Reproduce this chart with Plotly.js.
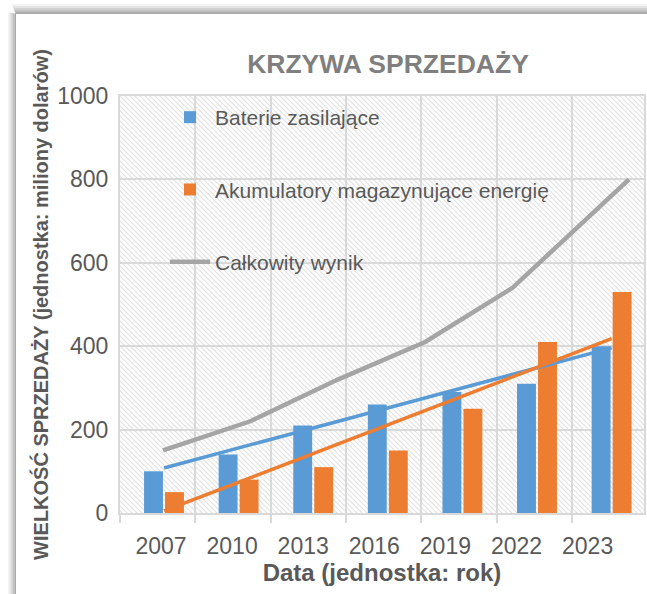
<!DOCTYPE html>
<html>
<head>
<meta charset="utf-8">
<script src="https://cdn.plot.ly/plotly-3.0.1.min.js"></script>
<style>html,body{margin:0;padding:0;background:#fff;}#chart{width:647px;height:594px;}</style>
</head>
<body>
<div id="chart"></div>
<script>
// ---- data ----
const categories = ['2007', '2010', '2013', '2016', '2019', '2022', '2023'];
const years = [2007, 2010, 2013, 2016, 2019, 2022, 2023];
const baterie = [100, 140, 210, 260, 290, 310, 400];
const akumulatory = [50, 80, 110, 150, 250, 410, 530];
const calkowity = [150, 220, 320, 410, 540, 735, 800];
const trendX = [categories[0], categories[categories.length - 1]];
const trendBaterie = [108, 396];
const trendAkumulatory = [5, 418];
const seriesNames = ['Baterie zasilające', 'Akumulatory magazynujące energię', 'Całkowity wynik'];

// ---- styling ----
const FONT = 'Liberation Sans, Arial, sans-serif';
const TXT = '#595959';
const GRID = '#d9d9d9';
const W = 647, H = 594;
const M = {l: 120, r: 3, t: 96, b: 81};
const PW = W - M.l - M.r, PH = H - M.t - M.b;
const px = x => (x - M.l) / PW;
const py = y => (H - M.b - y) / PH;

// pixel geometry of the reference
const CAT0 = 164, CATSTEP = 74.6;      // bar group centres
const LAB0 = 161, LABSTEP = 71.1;      // tick label centres
const YR0 = 163, YRSTEP = 29.125;      // pixels per year for the total line
const GRIDSTEP = 75.3;                 // vertical gridline spacing

const labelPos = categories.map((c, i) => (LAB0 + LABSTEP * i - CAT0) / CATSTEP);

const hatch = '<svg xmlns="http://www.w3.org/2000/svg" width="' + PW + '" height="' + PH + '">' +
  '<defs><pattern id="p" width="5" height="5" patternUnits="userSpaceOnUse">' +
  '<path d="M-1,-1L6,6M-1,4L1,6M4,-1L6,1" stroke="#e2e2e2" stroke-width="1.2"/></pattern></defs>' +
  '<rect width="100%" height="100%" fill="#ffffff"/><rect width="100%" height="100%" fill="url(#p)"/></svg>';

const shadowCols = ['#f3f3f3', '#e4e4e4', '#d2d2d2', '#bfbfbf', '#aaaaaa'];
const shapes = [];
shadowCols.forEach((c, i) => {
  shapes.push({type: 'rect', xref: 'paper', yref: 'paper', layer: 'below',
    x0: px(12 + i * 0.8), x1: px(W + 5), y0: py(4 + i * 2), y1: py(6 + i * 2),
    fillcolor: c, line: {width: 0}});
  shapes.push({type: 'rect', xref: 'paper', yref: 'paper', layer: 'below',
    x0: px(8 + i * 1.6), x1: px(9.6 + i * 1.6), y0: py(12 + i * 0.4), y1: py(H + 5),
    fillcolor: c, line: {width: 0}});
});

const traces = [
  {type: 'bar', name: seriesNames[0], x: categories, y: baterie, xaxis: 'x', yaxis: 'y',
   legendgroup: 'a', marker: {color: '#5b9bd5'}, hoverinfo: 'skip'},
  {type: 'bar', name: seriesNames[1], x: categories, y: akumulatory, xaxis: 'x', yaxis: 'y',
   legendgroup: 'b', marker: {color: '#ed7d31'}, hoverinfo: 'skip'},
  {type: 'scatter', mode: 'lines', x: trendX, y: trendBaterie, xaxis: 'x', yaxis: 'y',
   showlegend: false, line: {color: '#5b9bd5', width: 3.5}, hoverinfo: 'skip'},
  {type: 'scatter', mode: 'lines', x: trendX, y: trendAkumulatory, xaxis: 'x', yaxis: 'y',
   showlegend: false, line: {color: '#ed7d31', width: 3.5}, hoverinfo: 'skip'},
  {type: 'scatter', mode: 'lines', name: seriesNames[2], x: years, y: calkowity, xaxis: 'x2', yaxis: 'y',
   legendgroup: 'c', line: {color: '#a5a5a5', width: 4.5}, hoverinfo: 'skip'}
];

const layout = {
  width: W, height: H,
  margin: M,
  paper_bgcolor: '#ffffff',
  plot_bgcolor: 'rgba(0,0,0,0)',
  font: {family: FONT, color: TXT},
  showlegend: true,
  barmode: 'group',
  bargap: 0.437,
  bargroupgap: 0.1,
  title: {
    text: 'KRZYWA SPRZEDAŻY',
    font: {family: FONT, size: 26.5, color: '#7f7f7f', weight: 'bold'},
    xref: 'container', yref: 'container', x: 388 / W, y: 1 - 64 / H,
    xanchor: 'center', yanchor: 'middle'
  },
  xaxis: {
    type: 'category', range: [(M.l - CAT0) / CATSTEP, (W - M.r - CAT0) / CATSTEP],
    tickmode: 'array', tickvals: labelPos, ticktext: categories,
    showgrid: false, ticks: '', zeroline: false, showline: false,
    tickfont: {family: FONT, size: 23, color: TXT}, ticklabelstandoff: 17,
    title: {text: 'Data (jednostka: rok)', font: {family: FONT, size: 24, color: TXT, weight: 'bold'}, standoff: 4}
  },
  xaxis2: {
    overlaying: 'x', anchor: 'y', side: 'bottom', type: 'linear',
    range: [2007 - (YR0 - M.l) / YRSTEP, 2007 + (W - M.r - YR0) / YRSTEP],
    tickmode: 'linear', tick0: 2007 - (YR0 - M.l) / YRSTEP, dtick: GRIDSTEP / YRSTEP,
    showgrid: true, gridcolor: GRID, gridwidth: 2,
    ticks: 'outside', ticklen: 8, tickwidth: 2, tickcolor: GRID,
    showticklabels: false, zeroline: false,
    showline: true, linecolor: GRID, linewidth: 2, mirror: true
  },
  yaxis: {
    range: [0, 1000], tick0: 0, dtick: 200,
    showgrid: true, gridcolor: GRID, gridwidth: 2,
    zeroline: false, showline: true, linecolor: GRID, linewidth: 2, mirror: true,
    ticks: '', tickfont: {family: FONT, size: 23, color: TXT}, ticklabelstandoff: 5,
    title: {text: 'WIELKOŚĆ SPRZEDAŻY (jednostka: miliony dolarów)',
            font: {family: FONT, size: 20, color: TXT, weight: 'bold'}, standoff: 3}
  },
  legend: {
    x: px(165), y: py(97), xanchor: 'left', yanchor: 'top',
    bgcolor: 'rgba(0,0,0,0)', borderwidth: 0,
    font: {family: FONT, size: 21, color: TXT},
    traceorder: 'grouped', tracegroupgap: 42, itemwidth: 40
  },
  images: [{
    source: 'data:image/svg+xml;charset=utf-8,' + encodeURIComponent(hatch),
    xref: 'paper', yref: 'paper', x: 0, y: 1, sizex: 1, sizey: 1,
    xanchor: 'left', yanchor: 'top', sizing: 'stretch', layer: 'below'
  }],
  shapes: shapes
};

Plotly.newPlot('chart', traces, layout, {displayModeBar: false, staticPlot: true});
</script>
</body>
</html>
